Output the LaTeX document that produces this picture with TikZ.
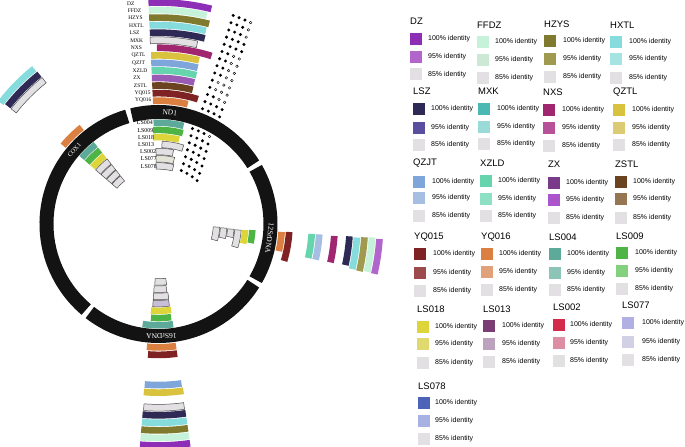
\documentclass[tikz,border=0pt]{standalone}
\usepackage{fontspec}
\setmainfont{Liberation Serif}
\newfontfamily\lsans{Liberation Sans}
\definecolor{c85}{HTML}{E2E0E3}
\definecolor{cDZa}{HTML}{8E2DB5}\definecolor{cDZb}{HTML}{B266CC}
\definecolor{cFFDZa}{HTML}{C5F2D8}\definecolor{cFFDZb}{HTML}{CDE9D6}
\definecolor{cHZYSa}{HTML}{7F7A2E}\definecolor{cHZYSb}{HTML}{A09A50}
\definecolor{cHXTLa}{HTML}{86DCDC}\definecolor{cHXTLb}{HTML}{A6E4E4}
\definecolor{cLSZa}{HTML}{2E2A55}\definecolor{cLSZb}{HTML}{5A4F9E}
\definecolor{cMXKa}{HTML}{4BB8B4}\definecolor{cMXKb}{HTML}{9ADAD8}
\definecolor{cNXSa}{HTML}{A0266F}\definecolor{cNXSb}{HTML}{B6519A}
\definecolor{cQZTLa}{HTML}{D9C23E}\definecolor{cQZTLb}{HTML}{DCCB72}
\definecolor{cQZJTa}{HTML}{7EA6DA}\definecolor{cQZJTb}{HTML}{A5BEE2}
\definecolor{cXZLDa}{HTML}{66D4AC}\definecolor{cXZLDb}{HTML}{8EE0C4}
\definecolor{cZXa}{HTML}{7A3A8A}\definecolor{cZXb}{HTML}{AA55CC}
\definecolor{cZSTLa}{HTML}{6B4320}\definecolor{cZSTLb}{HTML}{957552}
\definecolor{cYQ015a}{HTML}{7E2224}\definecolor{cYQ015b}{HTML}{9C4A4C}
\definecolor{cYQ016a}{HTML}{DB8041}\definecolor{cYQ016b}{HTML}{E0A17B}
\definecolor{cLS004a}{HTML}{5EAA9A}\definecolor{cLS004b}{HTML}{8CC4B8}
\definecolor{cLS009a}{HTML}{4DB445}\definecolor{cLS009b}{HTML}{83D17D}
\definecolor{cLS018a}{HTML}{DDD53A}\definecolor{cLS018b}{HTML}{E0D96E}
\definecolor{cLS013a}{HTML}{7A3E74}\definecolor{cLS013b}{HTML}{BBA3BD}
\definecolor{cLS002a}{HTML}{D42A4C}\definecolor{cLS002b}{HTML}{DE8EA2}
\definecolor{cLS077a}{HTML}{B0B0E2}\definecolor{cLS077b}{HTML}{D2D0E4}
\definecolor{cLS078a}{HTML}{4D63B8}\definecolor{cLS078b}{HTML}{A8B2E2}
\definecolor{bZX}{HTML}{9A5BB4}
\definecolor{bLilac}{HTML}{C8BFD6}
\definecolor{bBeige}{HTML}{E4E3D8}
\definecolor{ringblack}{HTML}{131313}
% annular sector: style, a1, a2, rin, rout
\newcommand\ann[5]{\path[#1] (#2:#4) arc[start angle=#2,end angle=#3,radius=#4] -- (#3:#5) arc[start angle=#3,end angle=#2,radius=#5] -- cycle;}
\newcommand\oring[4]{\pgfmathsetmacro\myrin{120+7.55*(#2)}\pgfmathsetmacro\myrout{\myrin+6.7}\ann{#1}{#3}{#4}{\myrin}{\myrout}}
\newcommand\iring[4]{\pgfmathsetmacro\myrout{104.5-7.2*(#2)}\pgfmathsetmacro\myrin{\myrout-6.5}\ann{#1}{#3}{#4}{\myrin}{\myrout}}
% dot row: radius, start angle, pattern
\newcommand\dotrow[3]{\foreach \s [count=\i from 0] in {#3}{\pgfmathsetmacro\ang{(#2)-\i*6.3/(#1)*57.2958}\ifnum\s=1 \fill[fdot] (\ang:#1) circle[radius=1.65];\else \draw[odot] (\ang:#1) circle[radius=1.3];\fi}}
\newcommand\lgd[9]{%
 \node[ttl] (t#1) at (#2,#3) {#1};
 \fill[#8] (#2,#4) rectangle ++(12,12);
 \fill[#9] (#2,#5) rectangle ++(12,12);
 \fill[c85] (#2,#6) rectangle ++(12,12);
 \node[itx] (a#1) at (#7,#4+6) {100\% identity};
 \node[itx] (b#1) at (#7,#5+6) {95\% identity};
 \node[itx] (c#1) at (#7,#6+6) {85\% identity};}
\begin{document}
\begin{tikzpicture}[x=1bp,y=1bp,
  seg/.style={draw=ringblack, line width=14bp},
  glab/.style={text=white, font=\fontsize{7.5}{8}\selectfont, inner sep=0pt},
  slab/.style={font=\fontsize{5.5}{6}\selectfont, inner sep=0pt, anchor=west},
  ilab/.style={font=\fontsize{6}{7}\selectfont, inner sep=0pt, anchor=west},
  gbox/.style={fill=c85, draw=black!70, line width=0.5bp},
  ttl/.style={font=\lsans\fontsize{9.5}{11}\selectfont, inner sep=0pt, anchor=west},
  itx/.style={font=\lsans\fontsize{7}{8}\selectfont, inner sep=0pt, anchor=west},
  fdot/.style={fill=black},
  odot/.style={draw=black, line width=0.4bp, fill=white}]
\useasboundingbox (0,0) rectangle (685,447);
\clip (0,0) rectangle (685,447);
\begin{scope}[shift={(158.5,223)}]
% ring segments
\draw[seg] (106.2:112) arc[start angle=106.2,end angle=229.8,radius=112];
\draw[seg] (32.2:112) arc[start angle=32.2,end angle=103.8,radius=112];
\draw[seg] (-29.8:112) arc[start angle=-29.8,end angle=29.8,radius=112];
\draw[seg] (232.2:112) arc[start angle=232.2,end angle=327.8,radius=112];
\node[glab, rotate=-5.8] (gND1) at (84.2:112) {ND1};
\node[glab, rotate=48.8, font=\fontsize{6.5}{7}\selectfont] (gCOX1) at (138.8:112) {COX1};
\node[glab, rotate=-97.2] (g12S) at (-7.2:112) {12SrDNA};
\node[glab, rotate=181.5] (g16S) at (-88.5:112) {16SrDNA};
% ND1 outer
\oring{fill=cYQ016a}{0}{92.6}{76.3}
\oring{fill=cYQ015a}{1}{92.6}{72.5}
\oring{fill=cZSTLa}{2}{92.6}{75.7}
\oring{fill=bZX}{3}{92.6}{75.8}
\oring{fill=cXZLDa}{4}{92.6}{75.7}
\oring{fill=cQZJTa}{5}{92.6}{75.9}
\oring{fill=cQZTLa}{6}{92.5}{76.1}
\oring{fill=cNXSa}{7}{90.5}{72.5}
\oring{gbox}{8}{92.6}{77.9}
\oring{fill=cLSZa}{9}{92.6}{76}
\oring{fill=cHXTLa}{10}{92.6}{76.2}
\oring{fill=cHZYSa}{11}{92.6}{75.8}
\oring{fill=cFFDZa}{12}{92.6}{77}
\oring{fill=cDZa}{13}{92.6}{76.2}
% ND1 inner
\iring{fill=cLS004a}{0}{92.8}{75.7}
\iring{fill=cLS009a}{1}{93.3}{75}
\iring{fill=cLS018a}{2}{93.6}{76.3}
\iring{gbox}{3}{87.5}{72.2}
\iring{gbox}{4}{92}{78.5}
\iring{gbox,fill=bBeige}{5}{92.2}{76.4}
\iring{gbox}{6}{92.5}{75.5}
% COX1 outer
\oring{fill=cYQ016a}{0}{128.5}{140.6}
\oring{gbox}{8}{128.5}{142}
\oring{fill=cLSZa}{9}{128.5}{142}
\oring{fill=cHXTLa}{10}{128.7}{142.5}
% COX1 inner
\iring{fill=cLS004a}{0}{128.3}{139.3}
\iring{fill=cLS009a}{1}{128.3}{139.3}
\iring{fill=cLS018a}{2}{128.3}{139.3}
\iring{gbox}{3}{128.3}{139.3}
\iring{gbox}{4}{128.3}{139.3}
\iring{gbox}{5}{128.3}{139.3}
\iring{gbox}{6}{128.3}{139.3}
% 12S outer
\oring{fill=cYQ016a}{0}{-3.7}{-12.7}
\oring{fill=cYQ015a}{1}{-3.5}{-16.4}
\oring{fill=cXZLDa}{4}{-3.7}{-12.8}
\oring{fill=cQZJTb}{5}{-3.7}{-12.8}
\oring{fill=cNXSa}{7}{-3.9}{-12.6}
\oring{fill=cLSZa}{9}{-3.7}{-12.4}
\oring{fill=cHXTLa}{10}{-3.9}{-13.1}
\oring{fill=cHZYSb}{11}{-3.7}{-13.2}
\oring{fill=cFFDZa}{12}{-3.6}{-12.9}
\oring{fill=cDZb}{13}{-3.9}{-13}
% 12S inner
\iring{fill=cLS009a}{1}{-3.7}{-11.7}
\iring{fill=cLS018a}{2}{-4}{-13}
\iring{gbox}{3}{-4.3}{-16.7}
\iring{gbox}{4}{-4}{-10.3}
\iring{gbox}{5}{-3.5}{-12.3}
\iring{gbox}{6}{-3}{-16}
% 16S outer
\oring{fill=cYQ016a}{0}{264.6}{278.2}
\oring{fill=cYQ015a}{1}{265.4}{278.2}
\oring{fill=cQZJTa}{5}{265.1}{278.2}
\oring{fill=cQZTLa}{6}{265}{278.5}
\oring{gbox}{8}{265.4}{278}
\oring{fill=cLSZa}{9}{265.2}{278.2}
\oring{fill=cHXTLa}{10}{265.2}{278.2}
\oring{fill=cHZYSa}{11}{265.2}{278.2}
\oring{fill=cFFDZa}{12}{265.2}{278.2}
\oring{fill=cDZa}{13}{265.2}{278.2}
% 16S inner
\iring{fill=cLS004a}{0}{261}{278.3}
\iring{fill=cLS009a}{1}{265.4}{277.7}
\iring{fill=cLS018a}{2}{265}{278.4}
\iring{gbox,fill=bLilac}{3}{266}{277.6}
\iring{gbox}{4}{266}{277.8}
\iring{gbox}{5}{266}{277}
\iring{gbox}{6}{266.5}{277.6}
% dots outer (k=0 YQ016 ... 13 DZ)
\dotrow{123.35}{69.1}{1,1,1,1}
\dotrow{130.9}{69.2}{1,1,1,1}
\dotrow{138.45}{69.3}{1,1,0,0}
\dotrow{146.0}{69.4}{1,0,0,0}
\dotrow{153.55}{69.5}{1,0,0,0}
\dotrow{161.1}{69.6}{1,1,0,0}
\dotrow{168.65}{69.7}{1,1,0,0}
\dotrow{176.2}{69.7}{1,1,0,0}
\dotrow{183.75}{69.8}{1,1,0,0}
\dotrow{191.3}{69.9}{1,1,1,1}
\dotrow{198.85}{70.0}{1,1,1,1}
\dotrow{206.4}{70.1}{1,1,1,0}
\dotrow{213.95}{70.2}{1,1,1,0}
\dotrow{221.5}{70.3}{1,1,1,0}
% dots inner
\dotrow{101.25}{70.4}{1,1,1,0}
\dotrow{94.05}{69.8}{1,1,1,1}
\dotrow{86.85}{69.2}{1,1,1,1}
\dotrow{79.65}{68.7}{1,1,1,1}
\dotrow{72.45}{68.1}{1,1,1,1}
\dotrow{65.25}{67.5}{1,1,1,1}
\dotrow{58.05}{66.9}{1,1,1,1}
\end{scope}
\begin{scope}[shift={(0,447)},yscale=-1]
% outer sample labels
\foreach \nm [count=\k from 0] in {YQ016,YQ015,ZSTL,ZX,XZLD,QZJT,QZTL,NXS,MXK,LSZ,HXTL,HZYS,FFDZ,DZ}
  \node[slab] (l\nm) at ({135-8*\k/13},{100.5-7.48*\k}) {\nm};
% inner sample labels
\node[ilab] (lLS004) at (136.7,123) {LS004};
\node[ilab] (lLS009) at (137.3,130.2) {LS009};
\node[ilab] (lLS018) at (138,137.3) {LS018};
\node[ilab] (lLS013) at (138,144.4) {LS013};
\node[ilab] (lLS002) at (140,151.5) {LS002};
\node[ilab] (lLS077) at (140.7,158.7) {LS077};
\node[ilab] (lLS078) at (140.7,166.5) {LS078};
% legend
\lgd{DZ}{410}{21.7}{32.7}{51}{68.5}{428}{cDZa}{cDZb}
\lgd{FFDZ}{477}{25}{36}{54}{72}{495}{cFFDZa}{cFFDZb}
\lgd{HZYS}{544}{24}{35}{53}{70.7}{563}{cHZYSa}{cHZYSb}
\lgd{HXTL}{610}{25}{36}{53}{72}{629}{cHXTLa}{cHXTLb}
\lgd{LSZ}{413}{91.7}{103}{122}{139}{431}{cLSZa}{cLSZb}
\lgd{MXK}{478}{91.7}{103}{121}{138}{497}{cMXKa}{cMXKb}
\lgd{NXS}{543}{92.7}{104}{122}{140}{562}{cNXSa}{cNXSb}
\lgd{QZTL}{613}{92}{104}{122}{139}{632}{cQZTLa}{cQZTLb}
\lgd{QZJT}{413}{163.3}{176}{192}{210}{432}{cQZJTa}{cQZJTb}
\lgd{XZLD}{480}{163}{175}{193}{210}{498}{cXZLDa}{cXZLDb}
\lgd{ZX}{548}{164}{177}{194}{212}{566}{cZXa}{cZXb}
\lgd{ZSTL}{615}{164}{176}{193}{212}{633}{cZSTLa}{cZSTLb}
\lgd{YQ015}{414}{237}{248}{267}{285}{433}{cYQ015a}{cYQ015b}
\lgd{YQ016}{481}{237}{248}{266}{284}{499}{cYQ016a}{cYQ016b}
\lgd{LS004}{549}{237}{248}{267}{284}{567}{cLS004a}{cLS004b}
\lgd{LS009}{616}{236}{247}{265}{283}{635}{cLS009a}{cLS009b}
\lgd{LS018}{417}{309}{321}{338}{357}{435}{cLS018a}{cLS018b}
\lgd{LS013}{483}{309}{320}{338}{356}{502}{cLS013a}{cLS013b}
\lgd{LS002}{553}{307}{319}{337}{355}{570}{cLS002a}{cLS002b}
\lgd{LS077}{622}{305}{317}{336}{354}{642}{cLS077a}{cLS077b}
\lgd{LS078}{418}{386}{397}{415}{433}{435}{cLS078a}{cLS078b}
\end{scope}
\end{tikzpicture}
\end{document}
